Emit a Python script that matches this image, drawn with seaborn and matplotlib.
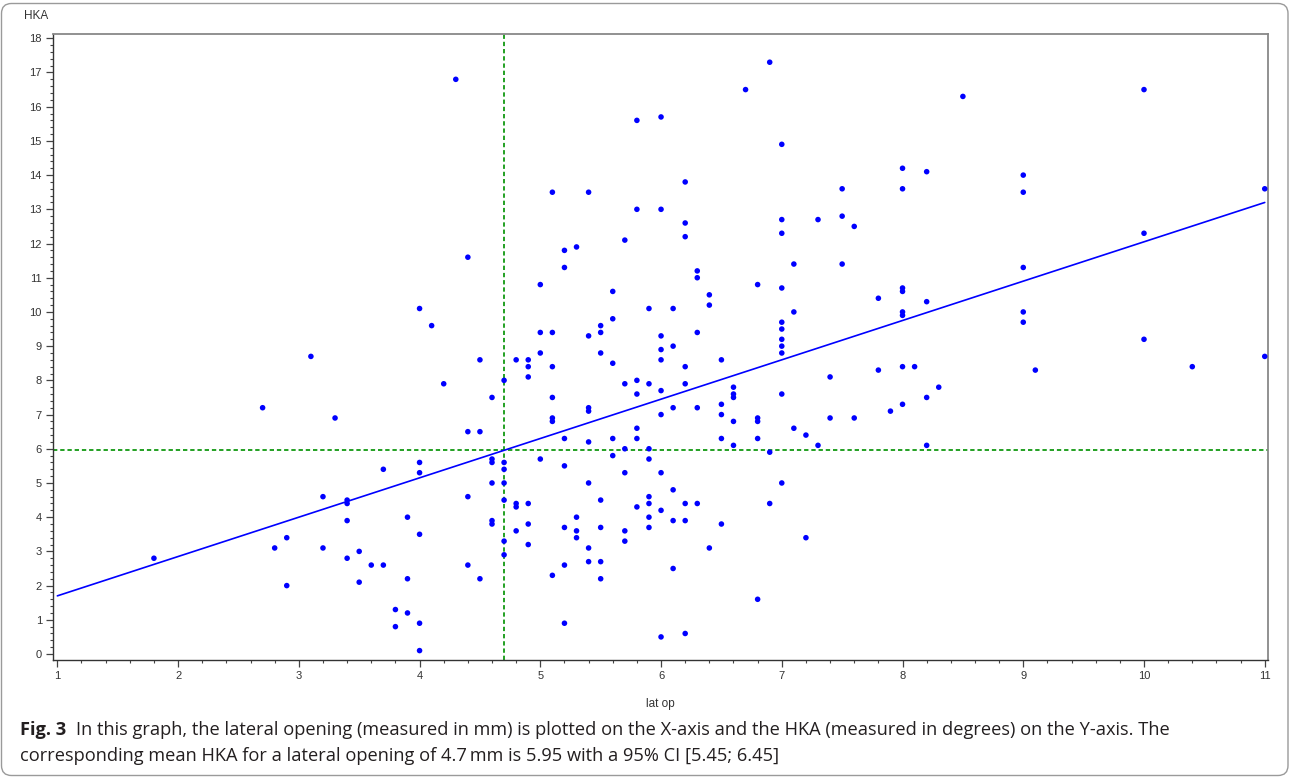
import matplotlib
matplotlib.use("Agg")
import matplotlib.pyplot as plt
from matplotlib.patches import FancyBboxPatch
from matplotlib.ticker import MultipleLocator
import numpy as np
import pandas as pd
import seaborn as sns

# ── Data (one row per lateral-opening value) ──────────────────────────────────
lat_op = (
    [1.8] + [2.7] + [2.8] + [2.9] * 2 + [3.1] + [3.2] * 2 + [3.3] + [3.4] * 4
    + [3.5] * 2 + [3.6] + [3.7] * 2 + [3.8] * 2 + [3.9] * 3 + [4.0] * 6
    + [4.1] + [4.2] + [4.3] + [4.4] * 4 + [4.5] * 3 + [4.6] * 6 + [4.7] * 7
    + [4.8] * 4 + [4.9] * 6 + [5.0] * 4 + [5.1] * 7 + [5.2] * 7 + [5.3] * 4
    + [5.4] * 8 + [5.5] * 7 + [5.6] * 5 + [5.7] * 6 + [5.8] * 7 + [5.9] * 8
    + [6.0] * 10 + [6.1] * 6 + [6.2] * 8 + [6.3] * 5 + [6.4] * 3 + [6.5] * 5
    + [6.6] * 5 + [6.7] + [6.8] * 5 + [6.9] * 3 + [7.0] * 11 + [7.1] * 3
    + [7.2] * 2 + [7.3] * 2 + [7.4] * 2 + [7.5] * 3 + [7.6] * 2 + [7.8] * 2
    + [7.9] + [8.0] * 8 + [8.1] + [8.2] * 4 + [8.3] + [8.5] + [9.0] * 5
    + [9.1] + [10.0] * 3 + [10.4] + [11.0] * 2
)
hka = [
    2.8, 7.2, 3.1, 3.4, 2.0, 8.7, 4.6, 3.1, 6.9, 4.5, 4.4, 3.9, 2.8,
    3.0, 2.1, 2.6, 5.4, 2.6, 1.3, 0.8, 4.0, 2.2, 1.2, 10.1, 5.6, 5.3, 3.5, 0.9, 0.1,
    9.6, 7.9, 16.8, 11.6, 6.5, 4.6, 2.6, 8.6, 6.5, 2.2,
    7.5, 5.7, 5.6, 5.0, 3.9, 3.8,
    8.0, 5.6, 5.4, 5.0, 4.5, 3.3, 2.9,
    8.6, 4.4, 4.3, 3.6,
    8.6, 8.4, 8.1, 4.4, 3.8, 3.2,
    10.8, 9.4, 8.8, 5.7,
    13.5, 9.4, 8.4, 7.5, 6.9, 6.8, 2.3,
    11.8, 11.3, 6.3, 5.5, 3.7, 2.6, 0.9,
    11.9, 4.0, 3.6, 3.4,
    13.5, 9.3, 7.2, 7.1, 6.2, 5.0, 3.1, 2.7,
    9.6, 9.4, 8.8, 4.5, 3.7, 2.7, 2.2,
    10.6, 9.8, 8.5, 6.3, 5.8,
    12.1, 7.9, 6.0, 5.3, 3.6, 3.3,
    15.6, 13.0, 8.0, 7.6, 6.6, 6.3, 4.3,
    10.1, 7.9, 6.0, 5.7, 4.6, 4.4, 4.0, 3.7,
    15.7, 13.0, 9.3, 8.9, 8.6, 7.7, 7.0, 5.3, 4.2, 0.5,
    10.1, 9.0, 7.2, 4.8, 3.9, 2.5,
    13.8, 12.6, 12.2, 8.4, 7.9, 4.4, 3.9, 0.6,
    11.2, 11.0, 9.4, 7.2, 4.4,
    10.5, 10.2, 3.1,
    8.6, 7.3, 7.0, 6.3, 3.8,
    7.8, 7.6, 7.5, 6.8, 6.1,
    16.5,
    10.8, 6.9, 6.8, 6.3, 1.6,
    17.3, 5.9, 4.4,
    14.9, 12.7, 12.3, 10.7, 9.7, 9.5, 9.2, 9.0, 8.8, 7.6, 5.0,
    11.4, 10.0, 6.6,
    6.4, 3.4,
    12.7, 6.1,
    8.1, 6.9,
    13.6, 12.8, 11.4,
    12.5, 6.9,
    10.4, 8.3,
    7.1,
    14.2, 13.6, 10.7, 10.6, 10.0, 9.9, 8.4, 7.3,
    8.4,
    14.1, 10.3, 7.5, 6.1,
    7.8,
    16.3,
    14.0, 13.5, 11.3, 10.0, 9.7,
    8.3,
    16.5, 12.3, 9.2,
    8.4,
    13.6, 8.7,
]

# fitted regression line (end points)
fit_x = [1.0, 11.0]
fit_y = [1.7, 13.2]

# reference lines: lateral opening 4.7 mm -> mean HKA 5.95
ref_x = 4.7
ref_y = 5.95

x_ticks = list(range(1, 12))
y_ticks = list(range(0, 19))

caption_bold = "Fig. 3"
caption_line1 = ("In this graph, the lateral opening (measured in mm) is plotted on the "
                 "X-axis and the HKA (measured in degrees) on the Y-axis. The")
caption_line2 = "corresponding mean HKA for a lateral opening of 4.7\u2009mm is 5.95 with a 95% CI [5.45; 6.45]"

# ── Style ─────────────────────────────────────────────────────────────────────
sns.set_theme(style="ticks")
plt.rcParams["font.family"] = ["Liberation Sans", "DejaVu Sans"]

W, H = 1290, 777
fig = plt.figure(figsize=(W / 100, H / 100), dpi=100)
fig.patch.set_facecolor("white")

ax = fig.add_axes([53 / W, 1 - 660 / H, (1268 - 53) / W, (660 - 34) / H])

df = pd.DataFrame({"lat op": lat_op, "HKA": hka})

# -- regression line and reference lines
sns.lineplot(x=fit_x, y=fit_y, ax=ax, color="#0000ff", linewidth=1.2, zorder=2)
ax.axvline(ref_x, color="#119911", linestyle=(0, (2.4, 1.6)), linewidth=1.3, zorder=1)
ax.axhline(ref_y, color="#119911", linestyle=(0, (2.4, 1.6)), linewidth=1.3, zorder=1)

# -- scatter
sns.scatterplot(data=df, x="lat op", y="HKA", ax=ax, color="#0000ff",
                s=16, edgecolor="none", linewidth=0, zorder=3)

ax.set_xlim(0.964, 11.027)
ax.set_ylim(-0.175, 18.125)
ax.set_xticks(x_ticks)
ax.set_yticks(y_ticks)
ax.xaxis.set_minor_locator(MultipleLocator(0.2))
ax.yaxis.set_minor_locator(MultipleLocator(0.2))

ax.tick_params(which="major", direction="out", length=5, width=0.9,
               color="#444444", labelsize=8, labelcolor="#333333", pad=3)
ax.tick_params(which="minor", direction="out", length=2.5, width=0.8, color="#444444")

for side in ["left", "bottom"]:
    ax.spines[side].set_color("#333333")
    ax.spines[side].set_linewidth(1.0)
for side in ["top", "right"]:
    ax.spines[side].set_color("#888888")
    ax.spines[side].set_linewidth(1.3)

ax.set_xlabel("lat op", fontsize=8.5, color="#333333", labelpad=12)
ax.set_ylabel("")
fig.text(24 / W, 1 - 16 / H, "HKA", fontsize=8.5, color="#333333", ha="left", va="center")

# -- caption
cap_font = dict(family=["Open Sans", "DejaVu Sans"], fontsize=13.15, color="#231f20")
t_bold = fig.text(20 / W, 1 - 735 / H, caption_bold, fontweight="bold",
                  ha="left", va="baseline", **cap_font)
ax.annotate(caption_line1, xy=(1, 0), xycoords=t_bold, xytext=(7, 0),
            textcoords="offset points", ha="left", va="bottom",
            annotation_clip=False, **cap_font)
fig.text(20 / W, 1 - 761 / H, caption_line2, ha="left", va="baseline", **cap_font)

# -- rounded frame around the whole figure
frame = FancyBboxPatch((1.5, 1.5), W - 3.5, H - 5, boxstyle="round,pad=0,rounding_size=10",
                       transform=None, fill=False, edgecolor="#9a9a9a", linewidth=1.0)
fig.add_artist(frame)

fig.savefig("out.png", dpi=100, facecolor="white")
plt.close(fig)
